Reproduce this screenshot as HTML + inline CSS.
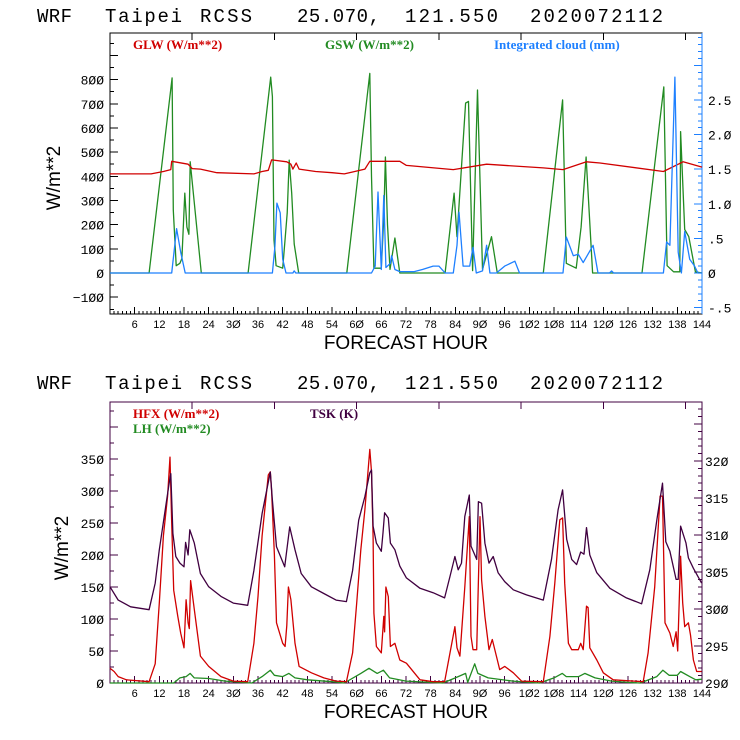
<!DOCTYPE html>
<html><head><meta charset="utf-8"><style>
body{margin:0;background:#fff}
svg{display:block}
.t{font-family:"Liberation Sans",sans-serif;font-size:19px;fill:#000}
.tt{font-family:"Liberation Mono",monospace;font-size:19px;fill:#000}
.tk{font-family:"Liberation Mono",monospace;font-size:13px;fill:#000}
.xt{font-family:"Liberation Sans",sans-serif;font-size:11px;fill:#000}
.lg{font-family:"Liberation Serif",serif;font-size:13px;font-weight:bold}
</style></head><body>
<svg id="c" width="740" height="740" viewBox="0 0 740 740">
<g>
<text class="tt" x="37" y="22" textLength="35" lengthAdjust="spacing">WRF</text>
<text class="tt" x="105" y="22" textLength="77" lengthAdjust="spacing">Taipei</text>
<text class="tt" x="200" y="22" textLength="52" lengthAdjust="spacing">RCSS</text>
<text class="tt" x="297" y="22" textLength="83" lengthAdjust="spacing">25.070,</text>
<text class="tt" x="405" y="22" textLength="93" lengthAdjust="spacing">121.550</text>
<text class="tt" x="530" y="22" textLength="133" lengthAdjust="spacing">2020072112</text>
</g>
<g>
<text class="tt" x="37" y="389" textLength="35" lengthAdjust="spacing">WRF</text>
<text class="tt" x="105" y="389" textLength="77" lengthAdjust="spacing">Taipei</text>
<text class="tt" x="200" y="389" textLength="52" lengthAdjust="spacing">RCSS</text>
<text class="tt" x="297" y="389" textLength="83" lengthAdjust="spacing">25.070,</text>
<text class="tt" x="405" y="389" textLength="93" lengthAdjust="spacing">121.550</text>
<text class="tt" x="530" y="389" textLength="133" lengthAdjust="spacing">2020072112</text>
</g>
<text class="lg" x="133" y="49" fill="#d00000">GLW (W/m**2)</text>
<text class="lg" x="325" y="49" fill="#228b22">GSW (W/m**2)</text>
<text class="lg" x="494" y="49" fill="#1e80ff">Integrated cloud (mm)</text>
<text class="lg" x="133" y="418" fill="#d00000">HFX (W/m**2)</text>
<text class="lg" x="133" y="433" fill="#228b22">LH  (W/m**2)</text>
<text class="lg" x="310" y="418" fill="#400040">TSK (K)</text>
<text class="t" x="406" y="349" text-anchor="middle" font-size="18">FORECAST HOUR</text>
<text class="t" x="406" y="718" text-anchor="middle" font-size="18">FORECAST HOUR</text>
<text class="t" transform="translate(60,178) rotate(-90)" text-anchor="middle" font-size="18">W/m**2</text>
<text class="t" transform="translate(68,548) rotate(-90)" text-anchor="middle" font-size="18">W/m**2</text>
</svg>
<script>
// ---- top panel data ----
const gswX=[0,9.5,15.1,15.4,16.1,17,17.5,18.2,18.7,19.2,19.5,22.2,33.6,39.1,39.5,39.9,40.4,42,42.5,43.1,43.6,44.2,44.8,45.9,57.6,63.2,63.6,64.2,66,66.6,67,67.5,68.1,69.3,70.5,81.5,83.7,84.4,86.5,87.2,88.2,89.4,90.6,92.8,94.2,105.4,110.1,111,113.4,114.6,115.8,117.4,129.4,134.7,135.5,137.1,138.6,138.8,139.8,140.8,142.4,144];
const gswV=[0,0,807,260,30,40,60,330,190,160,460,0,0,810,730,137,30,20,120,248,467,330,120,0,0,826,400,20,20,230,480,200,15,145,0,0,330,150,703,710,10,757,15,150,0,0,716,40,20,190,480,0,0,770,30,5,5,585,180,150,5,0];
const glwX=[0,10,13,14.8,15,19,20,22,26,35,37,38.5,39.3,43,44,44.5,45.3,46,50,54,57,59,62,63.2,70.5,72.1,83.5,91.6,105.4,110.2,115.9,119.2,134.6,139.4,144];
const glwV=[410,410,420,428,462,450,432,430,415,410,420,425,468,460,450,430,455,430,420,415,410,418,430,462,462,445,428,450,435,428,460,455,420,460,438];
const cldX=[0,15,16.2,17.2,18.3,39.5,40.1,40.6,41.4,42,42.8,44.5,44.8,45.2,63.6,64.5,65.2,66,66.6,67.1,68.2,68.5,69.3,70.5,74,76,78.6,80,81.5,83.5,84.4,84.9,85.9,87.5,88.3,89.1,90.6,91.6,92.4,94,96,98.5,99.6,105.4,110.2,111,112.7,113.9,115.1,117.5,118.7,121.5,122,122.5,134.6,135.4,136.2,137.4,138.2,139,139.8,141,142.2,143,144];
const cldV=[0,0,0.64,0.3,0,0,0.38,1.01,0.87,0.2,0,0,0.03,0,0,0.1,1.17,0.05,1.12,0.08,0.14,0.25,0.05,0.02,0.02,0.05,0.1,0.1,0,0,0.4,0.88,0.1,0.1,0.37,0,0.03,0.4,0,0,0.1,0.17,0,0,0,0.52,0.25,0.27,0.15,0.4,0,0,0.03,0,0,0.45,0.4,2.83,0.3,0,0.6,0.2,0.1,0,0];
// ---- bottom panel data ----
const hfxX=[0,1,2,4,9.5,11,12,13,14,14.6,15,15.5,16.5,17.2,18,18.5,19,19.3,19.6,20.5,22,24,27,30,33.5,35,36,37,38.5,39,39.3,40,40.5,42,42.6,43,43.4,44,45,46,49,52,55,57.5,59,60,61,62,63.2,63.6,64,64.2,64.8,66,66.6,66.8,67.1,67.7,68.2,69.3,70.5,72.1,75.4,78.6,81.4,82.7,83.9,84.4,85.1,86.3,87.4,87.8,88.3,89.2,90,90.4,91.2,92.2,93,94,94.8,96,98.1,100.1,105.4,107,108.2,109.4,110.1,110.6,111.5,112.3,113.9,114.5,115.1,115.9,116.3,116.7,118.4,120,122.4,129.7,130.9,132.5,133.8,134.4,135,136.2,137,137.7,138.1,138.8,139.3,139.8,140.7,141.2,141.9,142.7,143.9];
const hfxV=[23,18,10,5,2,30,125,230,292,353,250,145,104,78,55,130,94,85,160,115,42,26,10,3,2,62,135,230,325,330,300,200,94,62,57,90,150,130,62,26,16,8,3,2,47,125,208,271,365,330,228,109,57,47,104,80,150,135,57,62,36,31,5,2,2,47,88,55,42,150,260,73,52,52,260,161,104,52,68,42,21,26,16,3,2,73,156,255,258,156,62,52,52,62,52,120,118,55,36,16,5,2,47,150,292,292,94,78,57,80,50,198,125,88,94,75,36,18,18];
const lhX=[0,15.5,17,18.5,19.5,20.5,24,28,32,34.5,37,39,40,42,43.5,45,48,54,57,61,63,65,66.5,68,72,78,81,84,86.5,87,88.7,89.5,92,98,102,104.5,108,110,111,114,115.5,118,122,126,129,133,134.5,136,138,138.8,141,142.5,144];
const lhV=[0,0,8,10,15,8,7,3,1,0,10,20,12,10,15,8,5,2,0,15,23,15,20,8,3,1,0,8,15,1,30,15,8,3,1,0,8,15,10,10,15,8,3,1,0,10,20,12,12,18,10,5,6];
const tskX=[0,2,5,9.5,11,12,14.5,14.8,15.3,16,17,18,18.4,19,19.4,20.5,22,24,27,30,33.5,35,37,39,39.5,40.5,42.5,43.7,45,46.5,49,52,55,57.5,59,60.5,62,63.2,63.6,64,64.8,66,66.4,66.8,67.7,68.2,69.3,70.5,72.1,75.4,78.6,81.4,82.7,83.9,84.7,85.5,86.3,87.4,87.8,89.2,89.6,90.4,91.2,92.2,93.2,94.4,96,98.1,101.3,105.4,107.4,109,110.1,111.1,112.3,113.5,114.5,115.3,115.9,116.7,118.4,121.6,125.6,129.3,131.3,133,134.4,135.2,136.2,137.7,138.2,138.8,140.1,140.7,141.9,143.9];
const tskV=[303,301.2,300.3,299.9,303.5,308,317.4,318.3,310.2,307.1,306.2,305.7,309,307.3,310.7,308.9,304.8,303,301.7,300.8,300.5,305.2,312.9,318.5,314.7,308.4,305.7,311.1,308,304.8,303,302.1,301.2,301,305.2,312,315.2,318.4,318.8,311.2,308.9,307.8,310.3,313,312.3,308.9,308,305.8,304.2,302.8,302.2,301.5,304.4,307.1,305.3,306.2,312.5,315.4,308.5,306.7,314.5,314.3,308.9,306.2,307.1,304.9,303.7,302.6,301.9,301.2,306.7,313.4,316.1,309.4,306.7,306,307.7,307.4,311,307.3,304.9,302.8,301.5,300.7,305.3,312,317,309.1,307.8,304,304,311.2,308.9,306.9,305.5,303.5];

const xTicks=[6,12,18,24,30,36,42,48,54,60,66,72,78,84,90,96,102,108,114,120,126,132,138,144];
const topLeftTicks=[-100,0,100,200,300,400,500,600,700,800];
const topRightTicks=[-0.5,0,0.5,1.0,1.5,2.0,2.5];
const topRightLabels=["-.5","0",".5","1.0","1.5","2.0","2.5"];
const botLeftTicks=[0,50,100,150,200,250,300,350];
const botRightTicks=[290,295,300,305,310,315,320];

const NS='http://www.w3.org/2000/svg';
const svg=document.getElementById('c');
const L=110,R=702;
const xS=h=>L+h*(R-L)/144;
const yTop=v=>273-v*0.2417;
const yTopR=v=>273-v*69.2;
const yBot=v=>683-v*0.64;
const yBotR=v=>683-(v-290)*7.4;

function mk(tag,attrs){const e=document.createElementNS(NS,tag);for(const k in attrs)e.setAttribute(k,attrs[k]);svg.appendChild(e);return e;}
function line(x1,y1,x2,y2,c){return mk('line',{x1,y1,x2,y2,stroke:c,'stroke-width':1,'shape-rendering':'crispEdges'});}
function series(xs,vs,yf,color,name){
  const pts=xs.map((h,i)=>xS(h).toFixed(1)+','+yf(vs[i]).toFixed(1)).join(' ');
  const p=mk('polyline',{points:pts,fill:'none',stroke:color,'stroke-width':1.3,'stroke-linejoin':'round'});
  
  
}
function txt(x,y,s,cls,anchor,name){const t=mk('text',{x,y,class:cls,'text-anchor':anchor});t.textContent=s;
  
  
  return t;}

function frame(T,B,rc,fc){
  const r=mk('rect',{x:L,y:T,width:R-L,height:B-T,fill:'none',stroke:fc,'stroke-width':1,'shape-rendering':'crispEdges'});
  
  
  line(R,T,R,B,rc);
  for(let h=1;h<144;h++){const big=h%6===0;line(xS(h),B,xS(h),B-(big?7:3),fc);}
  for(let h=20;h<144;h+=20){line(xS(h),T,xS(h),T+7,fc);}
  xTicks.forEach(h=>txt(xS(h),B+14,String(h).replace(/0/g,'\u00D8'),'xt','middle','x-tick-label'));
}
frame(33,314,'#1e80ff','#000');
for(let v=-150;v<=990;v+=50){const y=yTop(v);if(y>33&&y<314)line(L,y,L+(v%100===0?8:4),y,'#000');}
topLeftTicks.forEach(v=>txt(104,yTop(v)+5,String(v).replace(/0/g,'\u00D8').replace('-','\u2212'),'tk','end','top-left-tick'));
for(let v=-0.5;v<=3.45;v+=0.1){const y=yTopR(v);if(y>34&&y<313)line(R,y,R-(Math.abs(Math.round(v*10))%5===0?8:4),y,'#1e80ff');}
topRightTicks.forEach((v,i)=>txt(708,yTopR(v)+5,topRightLabels[i].replace(/0/g,'\u00D8'),'tk','start','top-right-tick'));
series(gswX,gswV,yTop,'#228b22','gsw-line');
series(glwX,glwV,yTop,'#d00000','glw-line');
series(cldX,cldV,yTopR,'#1e80ff','cloud-line');
frame(402,683,'#400040','#400040');
for(let v=0;v<=430;v+=25){const y=yBot(v);if(y>402&&y<683)line(L,y,L+(v%50===0?8:4),y,'#400040');}
botLeftTicks.forEach(v=>txt(104,yBot(v)+5,String(v).replace(/0/g,'\u00D8'),'tk','end','bottom-left-tick'));
for(let v=290;v<=328;v++){const y=yBotR(v);if(y>403&&y<683)line(R,y,R-(v%5===0?8:4),y,'#400040');}
botRightTicks.forEach(v=>txt(705,yBotR(v)+5,String(v).replace(/0/g,'\u00D8'),'tk','start','bottom-right-tick'));
series(lhX,lhV,yBot,'#228b22','lh-line');
series(hfxX,hfxV,yBot,'#d00000','hfx-line');
series(tskX,tskV,yBotR,'#400040','tsk-line');
</script>
</body></html>
